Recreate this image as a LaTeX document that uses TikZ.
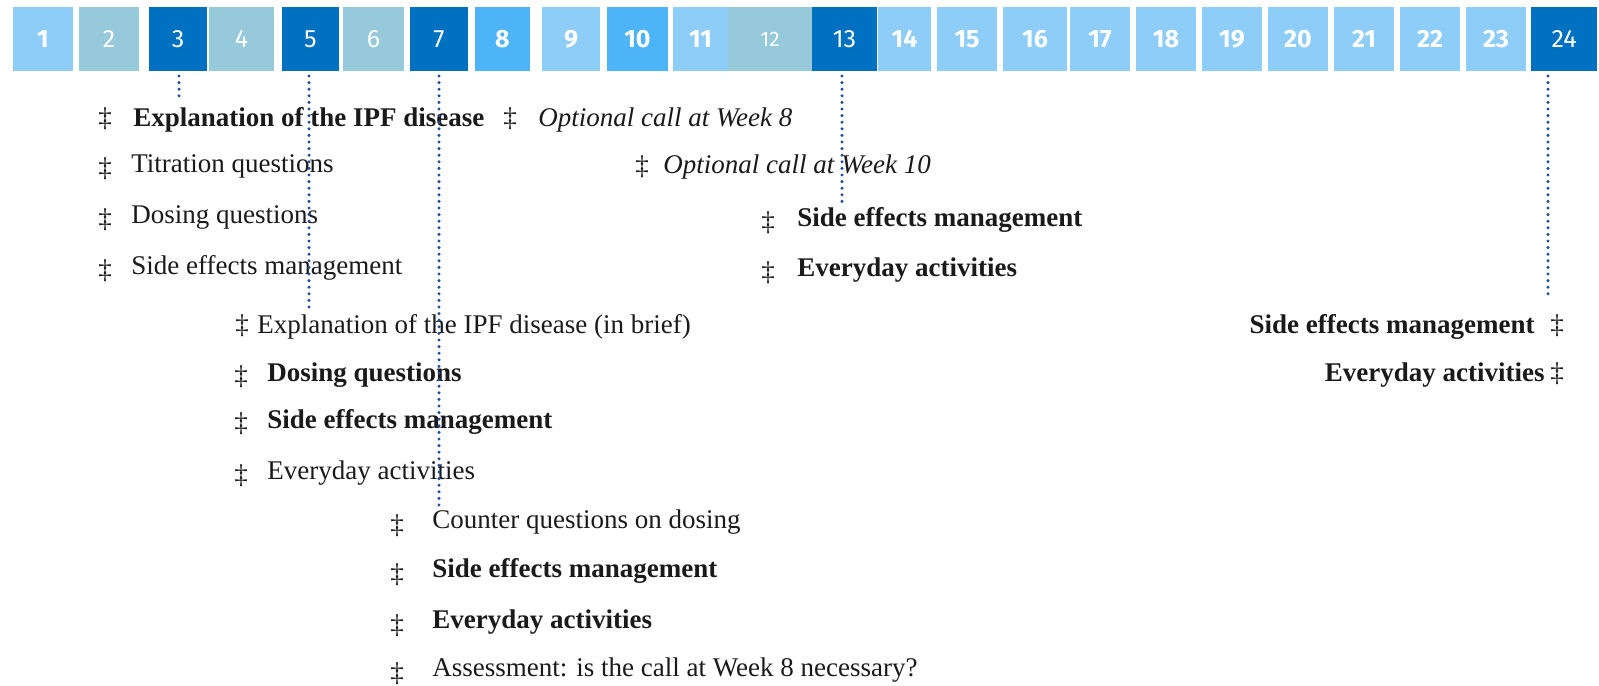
\documentclass[tikz,border=0pt]{standalone}
\usepackage{fontspec}
\setmainfont{Liberation Serif}
\newfontfamily\wkfont{Fira Sans}
\usetikzlibrary{positioning,calc}
\definecolor{cLt}{HTML}{8ECDF7}
\definecolor{cTl}{HTML}{96C9DA}
\definecolor{cDk}{HTML}{0070C0}
\definecolor{cMd}{HTML}{4DB4F7}
\definecolor{cDot}{HTML}{1F4E9E}
\definecolor{cTxt}{HTML}{1A1A1A}
\newcommand\wkb{\wkfont\bfseries\fontsize{12.5}{14}\selectfont}
\newcommand\wkr{\wkfont\fontsize{12.5}{14}\selectfont}
\newcommand\wks{\wkfont\fontsize{10.5}{12}\selectfont}
\tikzset{
  wk/.style={inner sep=0pt, outer sep=0pt, minimum height=32pt, text=white},
  txt/.style={anchor=base west, inner sep=0pt, text=cTxt, font=\fontsize{13.5}{16}\selectfont},
  txtr/.style={txt, anchor=base east},
  dg/.style={anchor=base, inner sep=0pt, text=cTxt, font=\fontsize{13.5}{16}\selectfont},
  link/.style={draw=cDot, line width=1.7pt, line cap=round, dash pattern=on 0pt off 3.3pt},
}
% one call topic: name, bullet x, bullet baseline, text x, text baseline, text
\newcommand\callitem[6]{%
  \node[txt] (#1) at (#4,#5) {#6};
  \node[dg] (#1b) at (#2,#3) {‡};}

\begin{document}
\begin{tikzpicture}[x=0.5pt, y=-0.5pt]
  \useasboundingbox (0,0) rectangle (1599,685);
  % week strip
  \foreach \wn/\wl/\wr/\wc/\wf in {
      1/13/73/cLt/\wkb, 2/79/139/cTl/\wkr, 3/149/207/cDk/\wkr, 4/209/274/cTl/\wkr,
      5/282/339/cDk/\wkr, 6/343/404/cTl/\wkr, 7/410/468/cDk/\wkr, 8/475/530/cMd/\wkb,
      9/542/600/cLt/\wkb, 10/607/668/cMd/\wkb, 11/673/728/cLt/\wkb, 12/728/812/cTl/\wks,
      13/812/877/cDk/\wkr, 14/878/931/cLt/\wkb, 15/937/997/cLt/\wkb, 16/1003/1067/cLt/\wkb,
      17/1070/1130/cLt/\wkb, 18/1136/1196/cLt/\wkb, 19/1202/1262/cLt/\wkb, 20/1268/1328/cLt/\wkb,
      21/1334/1394/cLt/\wkb, 22/1400/1460/cLt/\wkb, 23/1466/1526/cLt/\wkb, 24/1531/1597/cDk/\wkr}
    \node[wk, fill=\wc, font=\wf, minimum width={(\wr-\wl)*0.5pt}] (w\wn) at ({(\wl+\wr)/2},39) {\wn};

  % call at week 3
  \callitem{g1a}{105}{126}{133}{126}{\textbf{Explanation of the IPF disease}}
  \callitem{g1b}{105}{176}{131}{172}{Titration questions}
  \callitem{g1c}{105}{227}{131}{223}{Dosing questions}
  \callitem{g1d}{105}{278}{131}{274}{Side effects management}
  % optional calls
  \callitem{opt8}{510}{126}{538}{126}{\textit{Optional call at Week 8}}
  \callitem{opt10}{642}{174}{663}{173}{\textit{Optional call at Week 10}}
  % call at week 13
  \callitem{g4a}{768}{230}{797}{226}{\textbf{Side effects management}}
  \callitem{g4b}{768}{280}{797}{276}{\textbf{Everyday activities}}
  % call at week 5
  \callitem{g2a}{242}{333}{257}{333}{Explanation of the IPF disease (in brief)}
  \callitem{g2b}{241}{384}{267}{381}{\textbf{Dosing questions}}
  \callitem{g2c}{241}{431}{267}{428}{\textbf{Side effects management}}
  \callitem{g2d}{241}{483}{267}{479}{Everyday activities}
  % call at week 7
  \callitem{g3a}{397}{533}{432}{528}{Counter questions on dosing}
  \callitem{g3b}{397}{582}{432}{577}{\textbf{Side effects management}}
  \callitem{g3c}{397}{633}{432}{628}{\textbf{Everyday activities}}
  \callitem{g3d}{397}{681}{432}{676}{Assessment: is the call at Week 8 necessary?}
  % call at week 24
  \node[txtr] (g5a) at (1535,333) {\textbf{Side effects management}};
  \node[dg] (g5ab) at (1557,333) {‡};
  \node[txtr] (g5b) at (1545,381) {\textbf{Everyday activities}};
  \node[dg] (g5bb) at (1557,381) {‡};

  % dotted links from the weeks
  \coordinate (e3) at (179,102);
  \coordinate (e5) at (309,310);
  \coordinate (e7) at (439,505);
  \coordinate (e13) at (842,205);
  \coordinate (e24) at (1548,295);
  \foreach \k in {3,5,7,13,24}
    \draw[link] ($(w\k.south -| e\k)+(0,5)$) -- (e\k);
\end{tikzpicture}
\end{document}
